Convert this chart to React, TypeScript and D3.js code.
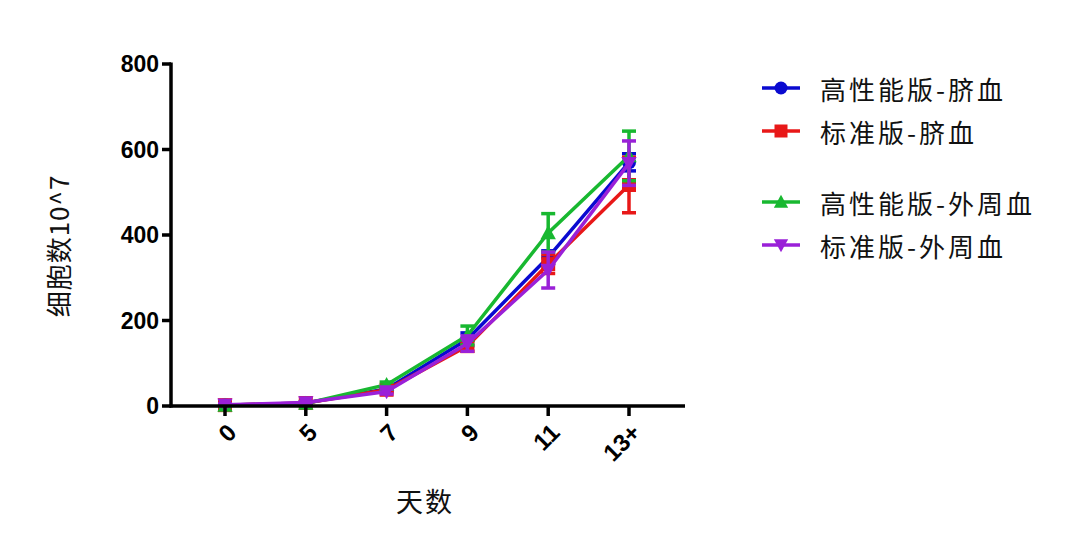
import React from "react";
import * as d3 from "d3";

const categories = ["0", "5", "7", "9", "11", "13+"];
const yTicks = [0, 200, 400, 600, 800];

const seriesNames = ["高性能版-脐血", "标准版-脐血", "高性能版-外周血", "标准版-外周血"];
const seriesColors = ["#0a0ad0", "#e81818", "#18b830", "#9a20d8"];
const seriesSymbols = ["circle", "square", "triangle", "triangleDown"];

const meanHPCord = [2, 7, 40, 156, 348, 570];
const errHPCord = [2, 3, 5, 15, 15, 20];
const meanStdCord = [2, 7, 38, 140, 332, 517];
const errStdCord = [2, 3, 5, 12, 22, 65];
const meanHPPeri = [1, 6, 50, 165, 405, 585];
const errHPPeri = [2, 3, 6, 22, 45, 58];
const meanStdPeri = [3, 8, 34, 146, 318, 568];
const errStdPeri = [2, 3, 6, 18, 42, 52];

const means = [meanHPCord, meanStdCord, meanHPPeri, meanStdPeri];
const errs = [errHPCord, errStdCord, errHPPeri, errStdPeri];

const W = 1080;
const H = 557;

function Marker({ kind, x, y, color, s = 7 }: { kind: string; x: number; y: number; color: string; s?: number }) {
  if (kind === "circle") return <circle cx={x} cy={y} r={s} fill={color} />;
  if (kind === "square") return <rect x={x - s} y={y - s} width={2 * s} height={2 * s} fill={color} />;
  if (kind === "triangle")
    return <path d={`M${x},${y - s * 1.1} L${x + s * 1.1},${y + s * 0.9} L${x - s * 1.1},${y + s * 0.9} Z`} fill={color} />;
  return <path d={`M${x},${y + s * 1.1} L${x + s * 1.1},${y - s * 0.9} L${x - s * 1.1},${y - s * 0.9} Z`} fill={color} />;
}

export default function App() {
  const x = d3.scalePoint<string>().domain(categories).range([225, 629]);
  const y = d3.scaleLinear().domain([0, 800]).range([406, 64]);
  const line = d3
    .line<number>()
    .x((_, i) => x(categories[i]) as number)
    .y((d) => y(d));
  const axisX0 = 171;
  const axisX1 = 685;
  const tickFont = "'Liberation Sans', Arial, sans-serif";
  const cjk = "'Noto Sans CJK SC', sans-serif";

  const legendRows = [88, 131, 202, 245];

  return (
    <svg width={W} height={H} style={{ position: "absolute", left: 0, top: 0, background: "#fff" }}>
      <rect width={W} height={H} fill="#fff" />
      {means.map((m, si) => (
        <g key={si}>
          <path d={line(m) || ""} fill="none" stroke={seriesColors[si]} strokeWidth={3.5} />
          {m.map((v, i) => {
            const cx = x(categories[i]) as number;
            const e = errs[si][i];
            return (
              <g key={i} stroke={seriesColors[si]} strokeWidth={3.5}>
                <line x1={cx} x2={cx} y1={y(v + e)} y2={y(v - e)} />
                <line x1={cx - 7} x2={cx + 7} y1={y(v + e)} y2={y(v + e)} />
                <line x1={cx - 7} x2={cx + 7} y1={y(v - e)} y2={y(v - e)} />
              </g>
            );
          })}
          {m.map((v, i) => (
            <Marker key={"m" + i} kind={seriesSymbols[si]} x={x(categories[i]) as number} y={y(v)} color={seriesColors[si]} />
          ))}
        </g>
      ))}
      <line x1={axisX0} x2={axisX0} y1={y(800) - 1.5} y2={y(0) + 1.5} stroke="#000" strokeWidth={3.5} />
      <line x1={axisX0 - 1.5} x2={axisX1} y1={y(0)} y2={y(0)} stroke="#000" strokeWidth={3.5} />
      {yTicks.map((t) => (
        <g key={t}>
          <line x1={axisX0 - 9} x2={axisX0} y1={y(t)} y2={y(t)} stroke="#000" strokeWidth={3.5} />
          <text
            x={axisX0 - 12}
            y={y(t)}
            textAnchor="end"
            dominantBaseline="central"
            fontFamily={tickFont}
            fontWeight="bold"
            fontSize={23}
          >
            {t}
          </text>
        </g>
      ))}
      {categories.map((c) => {
        const cx = x(c) as number;
        return (
          <g key={c}>
            <line x1={cx} x2={cx} y1={y(0)} y2={y(0) + 10} stroke="#000" strokeWidth={3.5} />
            <text
              transform={`translate(${cx + 7},${y(0) + 22}) rotate(-45)`}
              textAnchor="end"
              dominantBaseline="central"
              fontFamily={tickFont}
              fontWeight="bold"
              fontSize={24}
            >
              {c}
            </text>
          </g>
        );
      })}
      <text x={425} y={500} textAnchor="middle" dominantBaseline="central" fontFamily={cjk} fontSize={27} fill="#111" letterSpacing={2}>
        天数
      </text>
      <text
        transform={`translate(57,246) rotate(-90)`}
        textAnchor="middle"
        dominantBaseline="central"
        fontFamily={cjk}
        fontSize={26}
        fill="#111"
        letterSpacing={1}
      >
        细胞数10^7
      </text>
      {seriesNames.map((n, i) => (
        <g key={n}>
          <line x1={762} x2={800} y1={legendRows[i]} y2={legendRows[i]} stroke={seriesColors[i]} strokeWidth={3.5} />
          <Marker kind={seriesSymbols[i]} x={781} y={legendRows[i]} color={seriesColors[i]} s={6.5} />
          <text x={820} y={legendRows[i]} dominantBaseline="central" fontFamily={cjk} fontSize={26} fill="#111" letterSpacing={3}>
            {n}
          </text>
        </g>
      ))}
    </svg>
  );
}
